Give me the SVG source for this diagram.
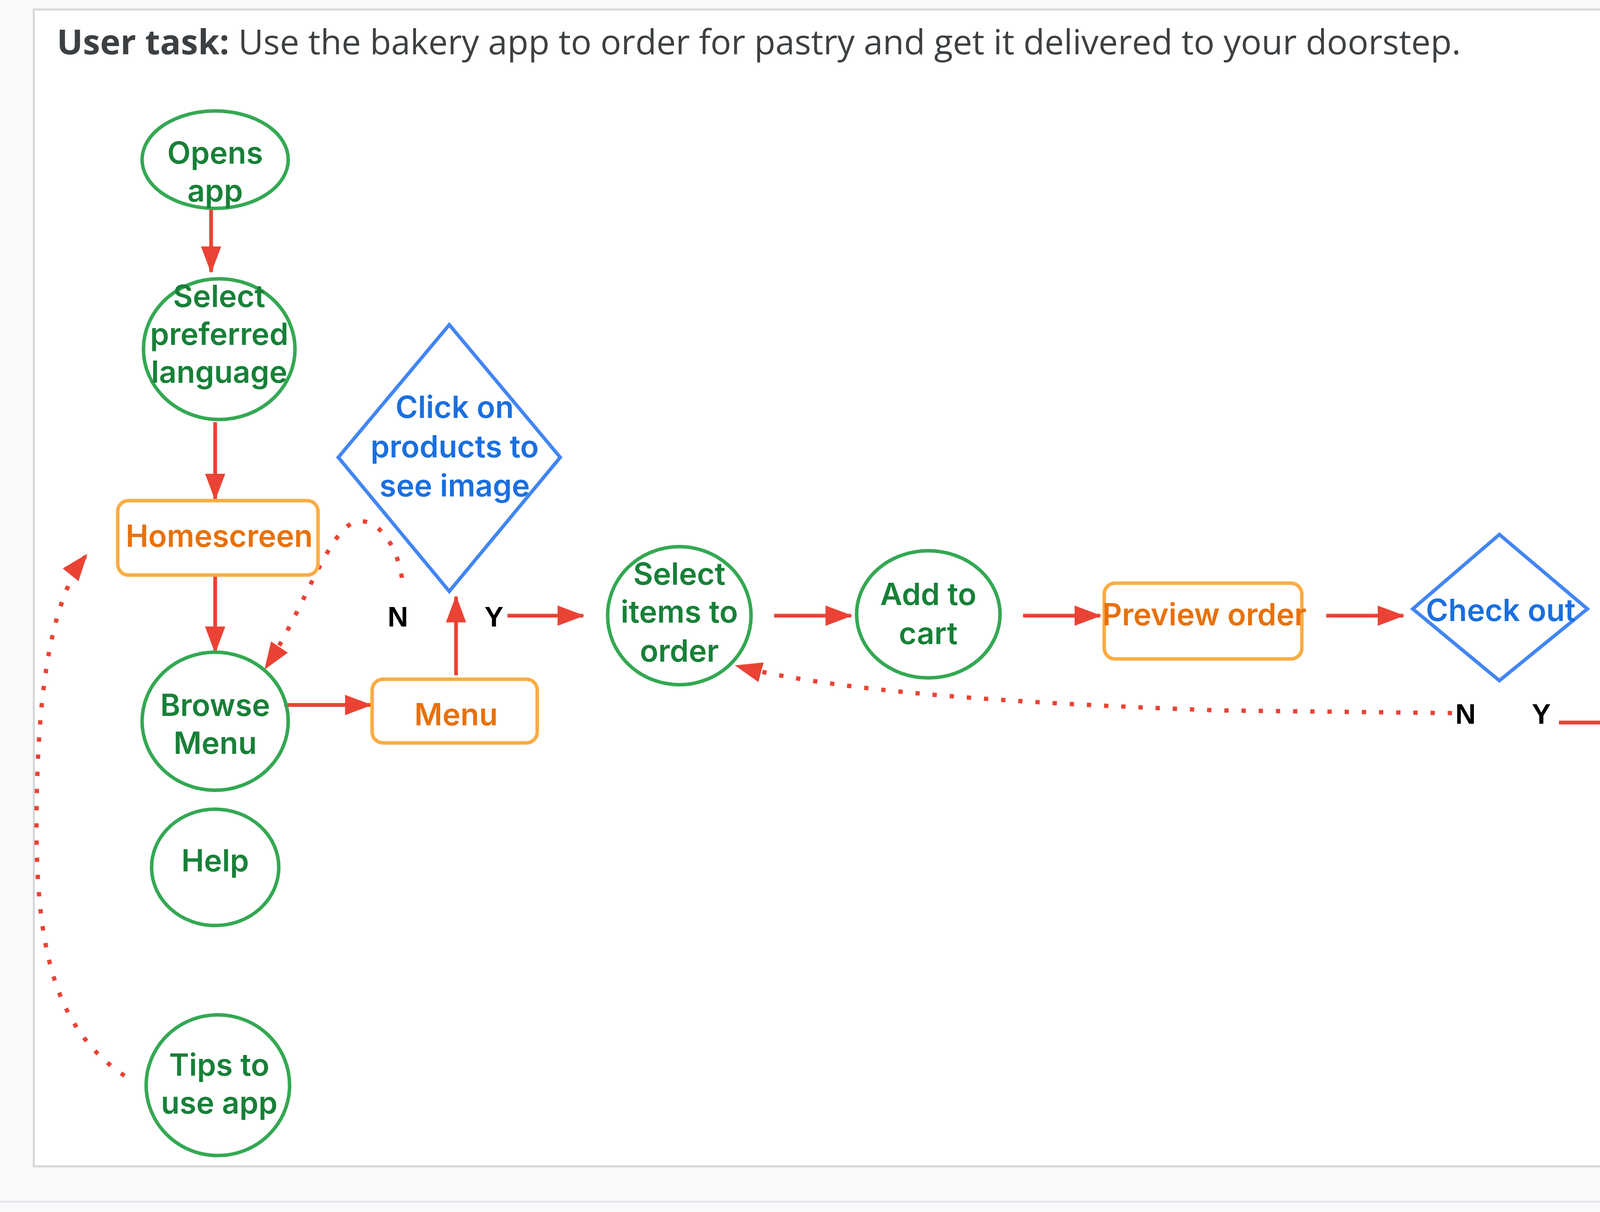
<svg xmlns="http://www.w3.org/2000/svg" width="5432" height="3103" viewBox="0 0 5432 3103">
<defs>
<style>
.gn{fill:none;stroke:#34a853;stroke-width:2.6}
.or{fill:#fff;stroke:#fbac43;stroke-width:2.6}
.bl{fill:none;stroke:#4285f4;stroke-width:2.6}
.tg{font-family:Inter,"Open Sans",sans-serif;font-weight:600;font-size:22.5px;fill:#188038;text-anchor:middle}
.to{font-family:Inter,"Open Sans",sans-serif;font-weight:600;font-size:22.5px;fill:#e8710a;text-anchor:middle}
.tb{font-family:Inter,"Open Sans",sans-serif;font-weight:600;font-size:22.5px;fill:#1a6fe0;text-anchor:middle}
.lab{font-family:"Liberation Sans",Arial,sans-serif;font-weight:700;font-size:21px;fill:#000;text-anchor:middle}
.ln{fill:none;stroke:#ea4335;stroke-width:2.8;marker-end:url(#ah)}
.dt{fill:none;stroke:#ea4335;stroke-width:3.2;stroke-dasharray:3.2 9.5}
.dta{fill:none;stroke:#ea4335;stroke-width:3.2;stroke-dasharray:3.2 9.5;marker-end:url(#ah)}
</style>
<marker id="ah" viewBox="0 0 20 15" refX="19" refY="7.5" markerWidth="20" markerHeight="15" orient="auto" markerUnits="userSpaceOnUse">
<path d="M0,0 L20,7.5 L0,15 z" fill="#ea4335"/>
</marker>
</defs>
<rect x="0" y="0" width="5432" height="3103" fill="#f8f9fa"/>
<g transform="scale(3.4643)">
<rect x="25" y="7" width="1520" height="855" fill="#fff" stroke="#d5d7da" stroke-width="1.5"/>
<line x1="0" y1="888" x2="1568" y2="888" stroke="#e0e2e5" stroke-width="1"/>
<text x="42" y="40" font-family="'Open Sans','Liberation Sans',sans-serif" font-size="25.5" fill="#3c4043"><tspan font-weight="700">User task:</tspan> Use the bakery app to order for pastry and get it delivered to your doorstep.</text>

<g id="connectors">
<line class="ln" x1="156" y1="154" x2="156" y2="201"/>
<line class="ln" x1="159" y1="312" x2="159" y2="369"/>
<line class="ln" x1="159" y1="426" x2="159" y2="482"/>
<line class="ln" x1="210" y1="521" x2="274" y2="521"/>
<line class="ln" x1="337" y1="499" x2="337" y2="441"/>
<line class="ln" x1="375" y1="455" x2="431" y2="455"/>
<line class="ln" x1="572" y1="455" x2="629" y2="455"/>
<line class="ln" x1="756" y1="455" x2="813" y2="455"/>
<line class="ln" x1="980" y1="455" x2="1037" y2="455"/>
<line class="ln" x1="1152" y1="534" x2="1209" y2="534"/>
<line class="ln" x1="1312" y1="483" x2="1312" y2="426"/>
<line class="ln" x1="1312" y1="314" x2="1312" y2="257"/>
<line class="ln" x1="1356" y1="280" x2="1413" y2="280"/>
<line class="ln" x1="1473" y1="303" x2="1473" y2="348"/>
<line class="ln" x1="1503" y1="498" x2="1469" y2="583"/>
<line class="ln" x1="1466" y1="692" x2="1466" y2="748"/>
<path class="dta" d="M297,427 C292,395 272,378 258,388 C240,400 222,455 196,494"/>
<path class="dta" d="M92,795 C40,760 26,700 27,600 C28,500 40,440 64,410"/>
<path class="dta" d="M1073,527 L900,525 C760,520 620,512 544,492"/>
<path class="dta" d="M1253,280 C1228,295 1222,330 1221,400 L1219,513"/>
<path class="dta" d="M1472,460 C1420,455 1350,460 1316,484"/>
<path class="dt" d="M1472,460 C1490,462 1500,466 1504,474"/>
<path class="dt" d="M1463,478 L1494,478"/>
</g>

<g id="opens-app"><ellipse class="gn" cx="159" cy="118" rx="54" ry="36"/><text class="tg" x="159" y="121">Opens</text><text class="tg" x="159" y="149">app</text></g>
<g id="select-language"><ellipse class="gn" cx="162" cy="258" rx="56" ry="52"/><text class="tg" x="162" y="227">Select</text><text class="tg" x="162" y="255">preferred</text><text class="tg" x="162" y="283">language</text></g>
<g id="homescreen"><rect class="or" x="87" y="370" width="148" height="55" rx="8"/><text class="to" x="162" y="404">Homescreen</text></g>
<g id="browse-menu"><ellipse class="gn" cx="159" cy="533" rx="54" ry="51"/><text class="tg" x="159" y="529">Browse</text><text class="tg" x="159" y="557">Menu</text></g>
<g id="menu"><rect class="or" x="275" y="502" width="122" height="47" rx="8"/><text class="to" x="337" y="536">Menu</text></g>
<g id="help"><ellipse class="gn" cx="159" cy="641" rx="47" ry="43"/><text class="tg" x="159" y="644">Help</text></g>
<g id="tips"><ellipse class="gn" cx="161" cy="802" rx="53" ry="52"/><text class="tg" x="162" y="795">Tips to</text><text class="tg" x="162" y="823">use app</text></g>
<g id="click-products"><polygon class="bl" points="332,240 414,338 332,437 250,338"/><text class="tb" x="336" y="309">Click on</text><text class="tb" x="336" y="338">products to</text><text class="tb" x="336" y="367">see image</text></g>
<g id="select-items"><ellipse class="gn" cx="502" cy="455" rx="53" ry="51"/><text class="tg" x="502" y="432">Select</text><text class="tg" x="502" y="460">items to</text><text class="tg" x="502" y="489">order</text></g>
<g id="add-to-cart"><ellipse class="gn" cx="686" cy="454" rx="53" ry="47"/><text class="tg" x="686" y="447">Add to</text><text class="tg" x="686" y="476">cart</text></g>
<g id="preview-order"><rect class="or" x="816" y="431" width="146" height="56" rx="8"/><text class="to" x="890" y="462" font-size="18.5">Preview order</text></g>
<g id="check-out"><polygon class="bl" points="1108,395 1173,450 1108,503 1044,450"/><text class="tb" x="1109" y="459">Check out</text></g>
<g id="payment-delivery"><rect class="or" x="1226" y="498" width="177" height="57" rx="8"/><text class="to" x="1312" y="525">Payment and</text><text class="to" x="1312" y="553" font-size="21">delivery details</text></g>
<g id="fill-form"><ellipse class="gn" cx="1312" cy="370" rx="78" ry="52"/><text class="tg" x="1312" y="361">Fill out</text><text class="tg" x="1312" y="389">delivery</text><text class="tg" x="1312" y="417">form</text></g>
<g id="allow-track"><polygon class="bl" points="1308,102 1383,178 1308,255 1236,178"/><text class="tb" x="1312" y="173" font-size="18">Allow app to</text><text class="tb" x="1312" y="198" font-size="18">track location</text></g>
<g id="select-payment"><ellipse class="gn" cx="1471" cy="241" rx="61" ry="61"/><text class="tg" x="1462" y="224">Select</text><text class="tg" x="1462" y="252">payment</text><text class="tg" x="1462" y="280">option</text></g>
<g id="confirm-payment"><polygon class="bl" points="1472,350 1543,404 1472,460 1403,404"/><text class="tb" x="1468" y="405">Confirm</text><text class="tb" x="1468" y="434">payment</text></g>
<g id="download-receipt"><ellipse class="gn" cx="1466" cy="635" rx="58" ry="55"/><text class="tg" x="1466" y="626">Download</text><text class="tg" x="1466" y="654">payment</text><text class="tg" x="1466" y="682">receipt</text></g>
<g id="track-order"><rect class="or" x="1398" y="752" width="147" height="56" rx="8"/><text class="to" x="1473" y="787">Track order</text></g>

<g id="labels">
<text class="lab" x="294" y="463">N</text><text class="lab" x="365" y="463">Y</text>
<text class="lab" x="1083" y="535">N</text><text class="lab" x="1139" y="535">Y</text>
<text class="lab" x="1277" y="283">N</text><text class="lab" x="1341" y="283">Y</text>
<text class="lab" x="1444" y="491">N</text><text class="lab" x="1505" y="491">Y</text>
</g>
</g>
</svg>
